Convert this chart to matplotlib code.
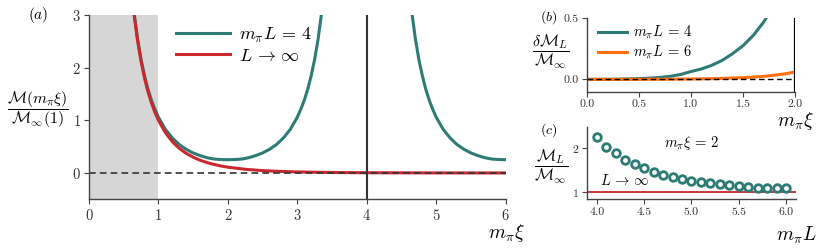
import numpy as np
import matplotlib
matplotlib.use("Agg")
import matplotlib.pyplot as plt

plt.rcParams['font.family'] = 'serif'
plt.rcParams['font.serif'] = ['cmr10', 'DejaVu Serif']
plt.rcParams['mathtext.fontset'] = 'cm'
plt.rcParams['axes.formatter.use_mathtext'] = True
plt.rcParams['axes.unicode_minus'] = False

teal = '#2e7b76'
red = '#c8282e'
orange = '#ff7010'
spine_col = '#444444'

# panel (a): M(m_pi xi) / M_inf(1)
red_x = [0.65, 0.7, 0.75, 0.8, 0.85, 0.9, 0.95, 1.0, 1.1, 1.2, 1.3, 1.4, 1.5, 1.6,
         1.7, 1.8, 1.9, 2.0, 2.25, 2.5, 2.75, 3.0, 3.5, 4.0, 5.0, 6.0]
red_y = [3.0, 2.51, 2.12, 1.80, 1.54, 1.33, 1.15, 1.0, 0.767, 0.596, 0.469, 0.373, 0.30, 0.242,
         0.197, 0.162, 0.133, 0.110, 0.070, 0.045, 0.030, 0.020, 0.009, 0.0045, 0.001, 0.0003]

green_x1 = [0.65, 0.7, 0.75, 0.8, 0.85, 0.9, 0.95, 1.0, 1.1, 1.2, 1.3, 1.4, 1.5, 1.6, 1.7, 1.8,
            1.9, 2.0, 2.1, 2.2, 2.3, 2.4, 2.5, 2.6, 2.7, 2.8, 2.9, 3.0, 3.05, 3.1, 3.15, 3.2,
            3.25, 3.3, 3.35]
green_y1 = [3.04, 2.55, 2.16, 1.85, 1.59, 1.38, 1.21, 1.06, 0.83, 0.665, 0.54, 0.45, 0.38, 0.33,
            0.29, 0.265, 0.255, 0.252, 0.255, 0.265, 0.29, 0.33, 0.38, 0.45, 0.54, 0.665, 0.83,
            1.06, 1.21, 1.38, 1.59, 1.85, 2.16, 2.55, 3.04]
green_x2 = [4.65, 4.7, 4.75, 4.8, 4.85, 4.9, 4.95, 5.0, 5.1, 5.2, 5.3, 5.4, 5.5, 5.6, 5.7, 5.8,
            5.9, 6.0]
green_y2 = [3.04, 2.55, 2.16, 1.85, 1.59, 1.38, 1.21, 1.06, 0.83, 0.665, 0.54, 0.45, 0.38, 0.33,
            0.29, 0.265, 0.255, 0.252]

# panel (b): delta M_L / M_inf
b4_x = [0.0, 0.25, 0.5, 0.6, 0.7, 0.8, 0.9, 1.0, 1.1, 1.2, 1.3, 1.4, 1.5, 1.6, 1.7, 1.75]
b4_y = [0.0, 0.001, 0.006, 0.01, 0.016, 0.025, 0.04, 0.064, 0.085, 0.115, 0.155, 0.21, 0.275,
        0.36, 0.47, 0.54]
b6_x = [0.0, 0.25, 0.5, 0.75, 1.0, 1.25, 1.5, 1.6, 1.7, 1.8, 1.9, 2.0]
b6_y = [0.0, 0.0001, 0.0004, 0.0012, 0.003, 0.0065, 0.014, 0.019, 0.025, 0.034, 0.045, 0.06]

# panel (c): M_L / M_inf at m_pi xi = 2
c_L = [4.0, 4.1, 4.2, 4.3, 4.4, 4.5, 4.6, 4.7, 4.8, 4.9, 5.0, 5.1, 5.2, 5.3, 5.4, 5.5, 5.6,
       5.7, 5.8, 5.9, 6.0]
c_ratio = [2.25, 2.04, 1.88, 1.74, 1.63, 1.54, 1.46, 1.39, 1.34, 1.28, 1.25, 1.22, 1.19, 1.17,
           1.15, 1.13, 1.11, 1.09, 1.085, 1.08, 1.07]

fig = plt.figure(figsize=(8.3, 2.49), dpi=100)
axa = fig.add_axes([0.1072, 0.1996, 0.502, 0.740])
axb = fig.add_axes([0.7069, 0.632, 0.251, 0.295])
axc = fig.add_axes([0.7076, 0.1996, 0.251, 0.2916])

for ax in (axa, axb, axc):
    for s in ('top', 'right'):
        ax.spines[s].set_visible(False)
    for s in ('left', 'bottom'):
        ax.spines[s].set_color(spine_col)
        ax.spines[s].set_linewidth(1.0)
    ax.tick_params(colors=spine_col, labelcolor='#333333', width=0.8, length=3.5, pad=2.5)

# (a)
axa.axvspan(0, 1, color='#d6d6d6', lw=0, zorder=0)
axa.plot(green_x1, green_y1, color=teal, lw=2.2, label=r'$m_\pi L\,=\,4$')
axa.plot(green_x2, green_y2, color=teal, lw=2.2)
axa.plot(red_x, red_y, color=red, lw=2.2, label=r'$L\,\rightarrow\,\infty$')
axa.axhline(0, color='#333333', ls='--', lw=1.2, dashes=(4, 2.5))
axa.axvline(4, color='#333333', lw=1.5)
axa.set_xlim(0, 6)
axa.set_ylim(-0.5, 3)
axa.set_xticks([0, 1, 2, 3, 4, 5, 6])
axa.set_yticks([0, 1, 2, 3])
axa.tick_params(labelsize=10.5)
axa.legend(loc='upper left', bbox_to_anchor=(0.17, 1.03), frameon=False, fontsize=13,
           handlelength=3.0, handletextpad=0.5, labelspacing=0.2)
fig.text(38 / 830, 1 - 110 / 249, r'$\dfrac{\mathcal{M}(m_\pi\xi)}{\mathcal{M}_\infty(1)}$',
         fontsize=11.5, ha='center', va='center')
fig.text(38 / 830, 1 - 15 / 249, r'$(a)$', fontsize=11, ha='center', va='center')
fig.text(506 / 830, 1 - 233 / 249, r'$m_\pi\xi$', fontsize=14, ha='center', va='center')

# (b)
axb.plot(b4_x, b4_y, color=teal, lw=2.2, label=r'$m_\pi L\,=\,4$')
axb.plot(b6_x, b6_y, color=orange, lw=2.2, label=r'$m_\pi L\,=\,6$')
axb.axhline(0, color='black', ls='--', lw=1.0, dashes=(4, 2.5))
axb.axvline(2, color='black', lw=1.6)
axb.set_xlim(0, 2)
axb.set_ylim(-0.1, 0.5)
axb.set_xticks([0.0, 0.5, 1.0, 1.5, 2.0])
axb.set_xticklabels(['0.0', '0.5', '1.0', '1.5', '2.0'])
axb.set_yticks([0.0, 0.5])
axb.set_yticklabels(['0.0', '0.5'])
axb.tick_params(labelsize=8.5)
axb.legend(loc='upper left', bbox_to_anchor=(-0.01, 1.1), frameon=False, fontsize=10.5,
           handlelength=2.0, handletextpad=0.4, labelspacing=0.1)
fig.text(551 / 830, 1 - 52 / 249, r'$\dfrac{\delta\mathcal{M}_L}{\mathcal{M}_\infty}$',
         fontsize=11.5, ha='center', va='center')
fig.text(549 / 830, 1 - 17 / 249, r'$(b)$', fontsize=10, ha='center', va='center')
fig.text(795 / 830, 1 - 121 / 249, r'$m_\pi\xi$', fontsize=14, ha='center', va='center')

# (c)
axc.axhline(1, color=red, lw=1.3)
axc.plot(c_L, c_ratio, 'o', mfc='white', mec=teal, mew=2.0, ms=5.5)
axc.text(4.03, 1.25, r'$L\,\rightarrow\,\infty$', fontsize=10.5, ha='left', va='center')
axc.text(5.0, 2.13, r'$m_\pi\xi\,=\,2$', fontsize=10.5, ha='center', va='center')
axc.set_xlim(3.9, 6.1)
axc.set_ylim(0.82, 2.5)
axc.set_xticks([4.0, 4.5, 5.0, 5.5, 6.0])
axc.set_xticklabels(['4.0', '4.5', '5.0', '5.5', '6.0'])
axc.set_yticks([1, 2])
axc.tick_params(labelsize=8.5)
fig.text(551 / 830, 1 - 167 / 249, r'$\dfrac{\mathcal{M}_L}{\mathcal{M}_\infty}$',
         fontsize=11.5, ha='center', va='center')
fig.text(549 / 830, 1 - 130 / 249, r'$(c)$', fontsize=10, ha='center', va='center')
fig.text(796 / 830, 1 - 235 / 249, r'$m_\pi L$', fontsize=14, ha='center', va='center')

fig.savefig('out.png', dpi=100)
